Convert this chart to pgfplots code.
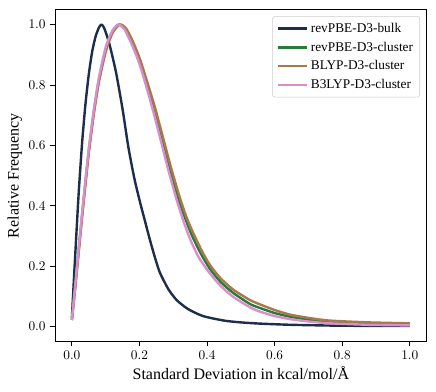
\documentclass[border=0pt]{standalone}
\usepackage{pgfplots}
\pgfplotsset{compat=1.18}
\usepackage{fontspec}
\setmainfont{Liberation Serif}
\definecolor{cbulk}{HTML}{1C2E4A}
\definecolor{cgreen}{HTML}{2B7A3B}
\definecolor{cbrown}{HTML}{A57A4C}
\definecolor{cpink}{HTML}{D98FC9}
\begin{document}
\begin{tikzpicture}
\path[use as bounding box] (-41.25pt,-37.7pt) rectangle (285.75pt,256.3pt);
\begin{axis}[
  at={(0,0)}, anchor=south west,
  scale only axis, width=278.75pt, height=249.2pt,
  xmin=-0.05, xmax=1.05, ymin=-0.05, ymax=1.05,
  xtick={0,0.2,0.4,0.6,0.8,1.0}, ytick={0,0.2,0.4,0.6,0.8,1.0},
  xticklabel style={/pgf/number format/.cd, fixed, fixed zerofill, precision=1},
  yticklabel style={/pgf/number format/.cd, fixed, fixed zerofill, precision=1},
  tick align=outside, xtick pos=bottom, ytick pos=left,
  major tick length=3.5pt,
  tick style={black, line width=0.6pt},
  axis line style={line width=0.6pt},
  xlabel={Standard Deviation in kcal/mol/Å},
  ylabel={Relative Frequency},
  label style={font=\fontsize{12}{14}\selectfont},
  xlabel style={yshift=2pt},
  ylabel style={yshift=-2pt},
  legend style={at={(1,1)}, anchor=north east, xshift=-5pt, yshift=-5pt,
    draw=black!20, rounded corners=2pt, font=\fontsize{10}{12}\selectfont,
    row sep=1.6pt, inner xsep=3pt, inner ysep=3pt},
  legend cell align=left,
  legend image code/.code={\draw[#1, line width=1.8pt] (0pt,0pt) -- (22pt,0pt);},
  every axis plot/.append style={line width=1.8pt, line join=round, smooth, tension=0.4},
]
\addplot[cbulk] coordinates {
(0,0.03) (0.01,0.24) (0.02,0.44) (0.03,0.605) (0.04,0.735) (0.05,0.835) (0.06,0.91) (0.07,0.96) (0.08,0.99) (0.087,1.0) (0.095,0.99) (0.11,0.94) (0.13,0.845) (0.15,0.72) (0.167,0.595) (0.185,0.49) (0.201,0.415) (0.215,0.355) (0.231,0.287) (0.245,0.232) (0.26,0.18) (0.285,0.125) (0.31,0.088) (0.344,0.058) (0.388,0.035) (0.45,0.02) (0.5,0.014) (0.556,0.01) (0.65,0.006) (0.8,0.003) (1.0,0.002)
};
\addlegendentry{revPBE-D3-bulk}
\addplot[cgreen] coordinates {
(0,0.022) (0.01,0.135) (0.02,0.25) (0.03,0.365) (0.04,0.475) (0.05,0.58) (0.065,0.71) (0.08,0.815) (0.1,0.915) (0.12,0.975) (0.14,1.0) (0.158,0.985) (0.178,0.94) (0.198,0.885) (0.214,0.83) (0.243,0.72) (0.274,0.59) (0.29,0.525) (0.315,0.425) (0.335,0.36) (0.354,0.305) (0.38,0.245) (0.408,0.192) (0.44,0.148) (0.477,0.112) (0.527,0.075) (0.556,0.062) (0.6,0.045) (0.645,0.033) (0.7,0.023) (0.763,0.016) (0.88,0.01) (1.0,0.008)
};
\addlegendentry{revPBE-D3-cluster}
\addplot[cbrown] coordinates {
(0,0.022) (0.01,0.13) (0.02,0.245) (0.03,0.36) (0.04,0.47) (0.05,0.575) (0.065,0.705) (0.08,0.81) (0.1,0.91) (0.12,0.972) (0.142,1.0) (0.16,0.988) (0.18,0.945) (0.2,0.89) (0.216,0.835) (0.246,0.725) (0.277,0.595) (0.295,0.52) (0.32,0.425) (0.34,0.36) (0.359,0.31) (0.385,0.25) (0.408,0.205) (0.44,0.16) (0.477,0.123) (0.527,0.088) (0.556,0.074) (0.6,0.055) (0.645,0.04) (0.7,0.029) (0.763,0.02) (0.88,0.014) (1.0,0.011)
};
\addlegendentry{BLYP-D3-cluster}
\addplot[cpink] coordinates {
(0,0.022) (0.01,0.14) (0.02,0.26) (0.03,0.375) (0.04,0.485) (0.05,0.59) (0.065,0.72) (0.08,0.825) (0.1,0.925) (0.12,0.98) (0.137,1.0) (0.155,0.985) (0.175,0.94) (0.195,0.885) (0.211,0.83) (0.239,0.72) (0.27,0.586) (0.285,0.52) (0.31,0.42) (0.33,0.35) (0.349,0.292) (0.375,0.23) (0.408,0.177) (0.44,0.135) (0.477,0.099) (0.527,0.064) (0.556,0.05) (0.6,0.035) (0.645,0.025) (0.7,0.017) (0.763,0.011) (0.88,0.006) (1.0,0.004)
};
\addlegendentry{B3LYP-D3-cluster}
\end{axis}
\end{tikzpicture}
\end{document}
